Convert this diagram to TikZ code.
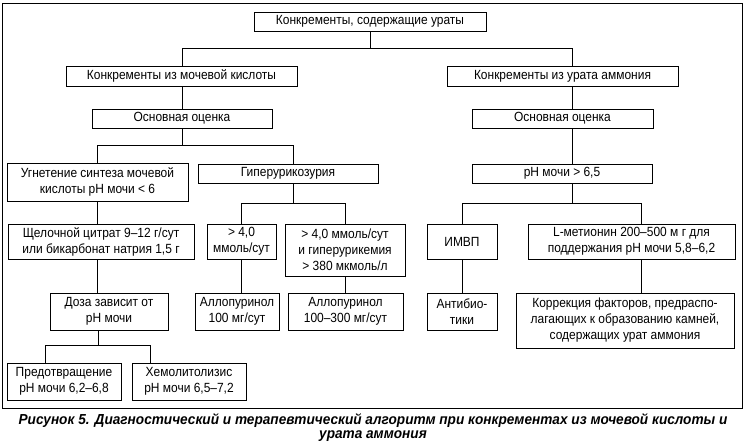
\documentclass[tikz,border=0pt]{standalone}
\usepackage{fontspec}
\setmainfont{Liberation Sans}
\newfontfamily\bodyfont[FakeStretch=0.9]{Liberation Sans}
\begin{document}
\begin{tikzpicture}[x=1pt,y=-1pt,
  box/.style={draw=black,line width=0.8pt,inner sep=0pt,align=center,font=\bodyfont\fontsize{13.3}{16}\selectfont},
  conn/.style={draw=black,line width=0.8pt},
  captext/.style={inner sep=0pt,font=\fontsize{14.5}{16}\selectfont\bfseries\itshape}]
\useasboundingbox[fill=white] (0,0) rectangle (745,445);
\draw[line width=0.9pt] (2,3) rectangle (742,408);
% boxes
\node[box,minimum width=232pt,minimum height=19pt] (top) at (370,21.5) {Конкременты, содержащие ураты};
\node[box,minimum width=231pt,minimum height=20pt] (um) at (181.5,76) {Конкременты из мочевой кислоты};
\node[box,minimum width=231pt,minimum height=20pt] (ua) at (562.5,76) {Конкременты из урата аммония};
\node[box,minimum width=180pt,minimum height=19pt] (oo1) at (182,118.5) {Основная оценка};
\node[box,minimum width=181pt,minimum height=19pt] (oo2) at (562.5,118.5) {Основная оценка};
\node[box,minimum width=181pt,minimum height=38pt] (ug) at (97.5,182) {Угнетение синтеза мочевой\\кислоты pH мочи < 6};
\node[box,minimum width=180pt,minimum height=19pt] (gip) at (288,173.5) {Гиперурикозурия};
\node[box,minimum width=186pt,minimum height=35pt] (sch) at (101,241.5) {Щелочной цитрат 9–12 г/сут\\или бикарбонат натрия 1,5 г};
\node[box,minimum width=69pt,minimum height=35pt] (g4) at (241.5,241.5) {> 4,0\\ммоль/сут};
\node[box,minimum width=120pt,minimum height=52pt] (g4h) at (345,250) {> 4,0 ммоль/сут\\и гиперурикемия\\> 380 мкмоль/л};
\node[box,minimum width=118pt,minimum height=37pt] (doz) at (109,311.5) {Доза зависит от\\pH мочи};
\node[box,minimum width=84pt,minimum height=37pt] (al1) at (237,311.5) {Аллопуринол\\100 мг/сут};
\node[box,minimum width=115pt,minimum height=37pt] (al2) at (345.5,311.5) {Аллопуринол\\100–300 мг/сут};
\node[box,minimum width=114pt,minimum height=37pt] (pred) at (64,381.5) {Предотвращение\\pH мочи 6,2–6,8};
\node[box,minimum width=114pt,minimum height=37pt] (hem) at (189,381.5) {Хемолитолизис\\pH мочи 6,5–7,2};
\node[box,minimum width=180pt,minimum height=19pt] (ph) at (562,173.5) {pH мочи > 6,5};
\node[box,minimum width=70pt,minimum height=35pt] (imvp) at (462,241.5) {ИМВП};
\node[box,minimum width=207pt,minimum height=35pt] (lmet) at (631.5,241.5) {L-метионин 200–500 м г для\\поддержания pH мочи 5,8–6,2};
\node[box,minimum width=70pt,minimum height=37pt] (anti) at (462,311.5) {Антибио-\\тики};
\node[box,minimum width=218pt,minimum height=55pt] (korr) at (625,320.5) {Коррекция факторов, предраспо-\\лагающих к образованию камней,\\содержащих урат аммония};
% junction coordinates
\coordinate (b0) at (370,48);
\coordinate (bl) at (182,48);
\coordinate (br) at (572,48);
\coordinate (c0) at (182,145);
\coordinate (cl) at (97,145);
\coordinate (cr) at (293,145);
\coordinate (d0) at (293,203);
\coordinate (dl) at (241,203);
\coordinate (dr) at (345,203);
\coordinate (e0) at (98,345);
\coordinate (el) at (45,345);
\coordinate (er) at (150,345);
\coordinate (f0) at (572,203);
\coordinate (fl) at (462,203);
\coordinate (fr) at (641,203);
% connectors
\draw[conn] (top.south) -- (b0);
\draw[conn] (bl) -- (br);
\draw[conn] (bl) -- (bl |- um.north);
\draw[conn] (br) -- (br |- ua.north);
\draw[conn] (bl |- um.south) -- (bl |- oo1.north);
\draw[conn] (br |- ua.south) -- (br |- oo2.north);
\draw[conn] (c0 |- oo1.south) -- (c0);
\draw[conn] (cl) -- (cr);
\draw[conn] (cl) -- (cl |- ug.north);
\draw[conn] (cr) -- (cr |- gip.north);
\draw[conn] (d0 |- gip.south) -- (d0);
\draw[conn] (dl) -- (dr);
\draw[conn] (dl) -- (dl |- g4.north);
\draw[conn] (dr) -- (dr |- g4h.north);
\draw[conn] (cl |- ug.south) -- (cl |- sch.north);
\draw[conn] (cl |- sch.south) -- (cl |- doz.north);
\draw[conn] (dl |- g4.south) -- (dl |- al1.north);
\draw[conn] (dr |- g4h.south) -- (dr |- al2.north);
\draw[conn] (e0 |- doz.south) -- (e0);
\draw[conn] (el) -- (er);
\draw[conn] (el) -- (el |- pred.north);
\draw[conn] (er) -- (er |- hem.north);
\draw[conn] (br |- oo2.south) -- (br |- ph.north);
\draw[conn] (f0 |- ph.south) -- (f0);
\draw[conn] (fl) -- (fr);
\draw[conn] (fl) -- (fl |- imvp.north);
\draw[conn] (fr) -- (fr |- lmet.north);
\draw[conn] (fl |- imvp.south) -- (fl |- anti.north);
\draw[conn] (fr |- lmet.south) -- (fr |- korr.north);
% caption
\node[captext] (cap1) at (373,421) {\scalebox{0.94}[1]{Рисунок 5. Диагностический и терапевтический алгоритм при конкрементах из мочевой кислоты и}};
\node[captext] (cap2) at (373,436) {\scalebox{0.94}[1]{урата аммония}};
\end{tikzpicture}
\end{document}
